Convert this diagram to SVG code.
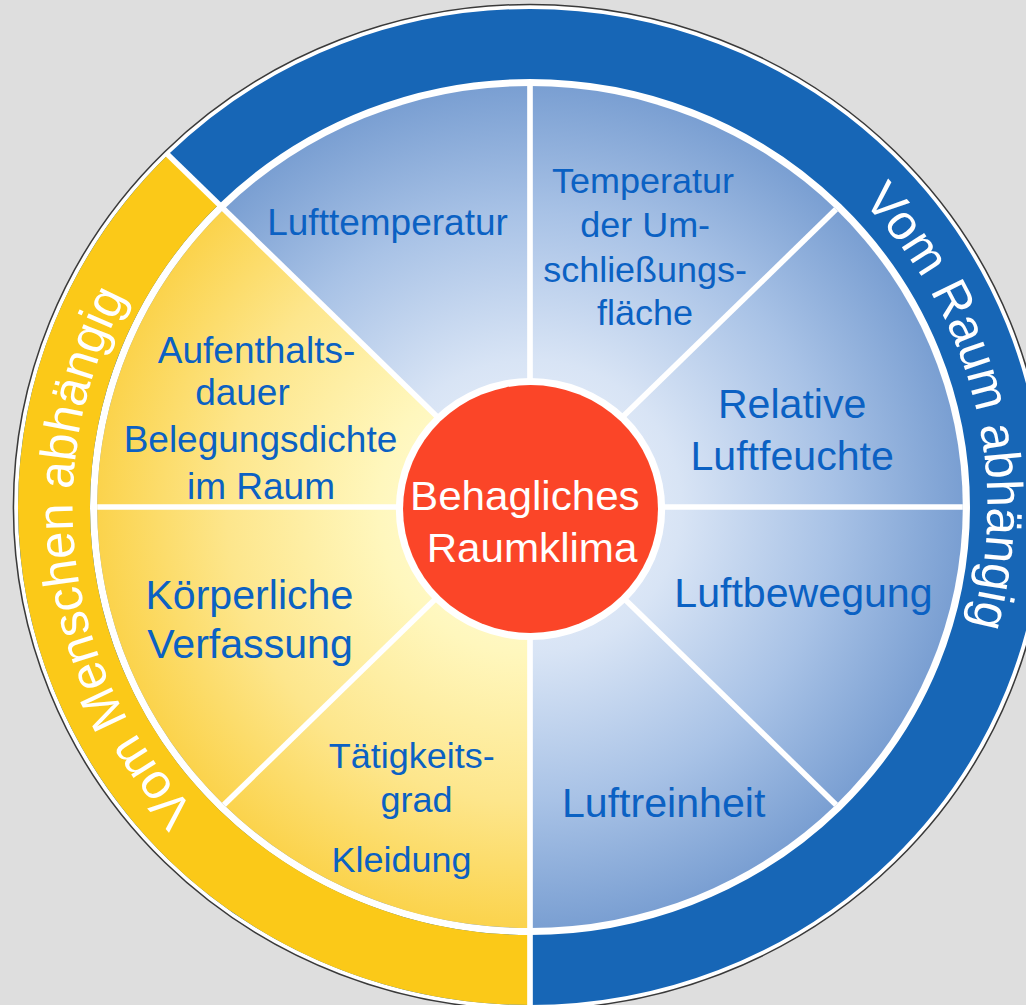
<svg xmlns="http://www.w3.org/2000/svg" width="1026" height="1005" viewBox="0 0 1026 1005">
<defs>
<radialGradient id="gBlue" gradientUnits="userSpaceOnUse" cx="0" cy="0" r="421">
<stop offset="0" stop-color="#f2f6fc"/>
<stop offset="0.35" stop-color="#d8e4f5"/>
<stop offset="0.7" stop-color="#a8c2e6"/>
<stop offset="1" stop-color="#7a9fd2"/>
</radialGradient>
<radialGradient id="gYellow" gradientUnits="userSpaceOnUse" cx="0" cy="0" r="421">
<stop offset="0" stop-color="#fffee6"/>
<stop offset="0.35" stop-color="#fff7bd"/>
<stop offset="0.7" stop-color="#fde68c"/>
<stop offset="1" stop-color="#fbd34c"/>
</radialGradient>
<path id="arcRight" d="M -107.7 -431.8 A 445 445 0 0 1 107.7 431.8"/>
<path id="arcLeft" d="M 57.3 441.3 A 445 445 0 0 1 -57.3 -441.3"/>
</defs>
<style>
.lbl{font-family:"Liberation Sans",Arial,sans-serif;fill:#0b61c3;text-anchor:middle}
.ringtxt{font-family:"Liberation Sans",Arial,sans-serif;fill:#ffffff;font-size:49px}
.div{stroke:#ffffff;stroke-width:5.5;stroke-linecap:butt}
</style>
<rect width="1026" height="1005" fill="#dedede"/>
<g id="wheel" transform="translate(530 507) scale(1.028 1)">
<circle r="502.5" fill="#ffffff" stroke="#3a3a3a" stroke-width="1.5"/>
<circle r="463" fill="none" stroke="#1766b6" stroke-width="70"/>
<path d="M0 463 A463 463 0 0 1 -327.4 -327.4" fill="none" stroke="#fbc918" stroke-width="70"/>
<circle r="421" fill="url(#gBlue)"/>
<path d="M0 0 L0 421 A421 421 0 0 1 -297.7 -297.7 Z" fill="url(#gYellow)"/>
</g>
<g id="connectors" transform="translate(530 507) scale(1.028 1)">
<line class="div" x1="0" y1="0" x2="421" y2="0"/>
<line class="div" x1="0" y1="0" x2="297.7" y2="297.7"/>
<line class="div" x1="0" y1="0" x2="0" y2="500"/>
<line class="div" x1="0" y1="0" x2="-297.7" y2="297.7"/>
<line class="div" x1="0" y1="0" x2="-421" y2="0"/>
<line class="div" x1="0" y1="0" x2="-353.6" y2="-353.6"/>
<line class="div" x1="0" y1="0" x2="0" y2="-421"/>
<line class="div" x1="0" y1="0" x2="297.7" y2="-297.7"/>
</g>
<g id="ring-raum" transform="translate(530 507) scale(1.028 1)">
<text class="ringtxt"><textPath href="#arcRight" startOffset="50%" text-anchor="middle">Vom Raum abhängig</textPath></text>
</g>
<g id="ring-mensch" transform="translate(530 507) scale(1.028 1)">
<text class="ringtxt"><textPath href="#arcLeft" startOffset="50%" text-anchor="middle">Vom Menschen abhängig</textPath></text>
</g>
<g id="center" transform="translate(530 507) scale(1.028 1)">
<circle cx="0.5" cy="2" r="131" fill="#ffffff"/>
<circle cx="0.5" cy="2" r="124" fill="#fb4528"/>
</g>
<g transform="matrix(1.028 0 0 1 -14.84 0)">
<g id="center-label">
<text class="lbl" style="fill:#ffffff;font-size:41px"><tspan x="525" y="510">Behagliches</tspan><tspan x="532" y="562">Raumklima</tspan></text>
</g>
<g id="lufttemperatur">
<text class="lbl" x="391.4" y="235" font-size="36">Lufttemperatur</text>
</g>
<g id="umschliessungsflaeche">
<text class="lbl" font-size="35"><tspan x="640" y="193">Temperatur</tspan><tspan x="642" y="237">der Um-</tspan><tspan x="642" y="282">schließungs-</tspan><tspan x="642" y="325">fläche</tspan></text>
</g>
<g id="luftfeuchte">
<text class="lbl" font-size="40"><tspan x="785" y="418">Relative</tspan><tspan x="785" y="470">Luftfeuchte</tspan></text>
</g>
<g id="luftbewegung">
<text class="lbl" x="796" y="607" font-size="40">Luftbewegung</text>
</g>
<g id="luftreinheit">
<text class="lbl" x="660" y="817" font-size="40">Luftreinheit</text>
</g>
<g id="taetigkeit">
<text class="lbl" font-size="35"><tspan x="415" y="768">Tätigkeits-</tspan><tspan x="419.6" y="812">grad</tspan><tspan x="405" y="872">Kleidung</tspan></text>
</g>
<g id="koerper">
<text class="lbl" font-size="40"><tspan x="257" y="609">Körperliche</tspan><tspan x="257.6" y="658">Verfassung</tspan></text>
</g>
<g id="aufenthalt">
<text class="lbl" font-size="36"><tspan x="264" y="363">Aufenthalts-</tspan><tspan x="250.3" y="405">dauer</tspan><tspan x="267.8" y="452">Belegungsdichte</tspan><tspan x="268.3" y="499">im Raum</tspan></text>
</g>
</g>
</svg>
